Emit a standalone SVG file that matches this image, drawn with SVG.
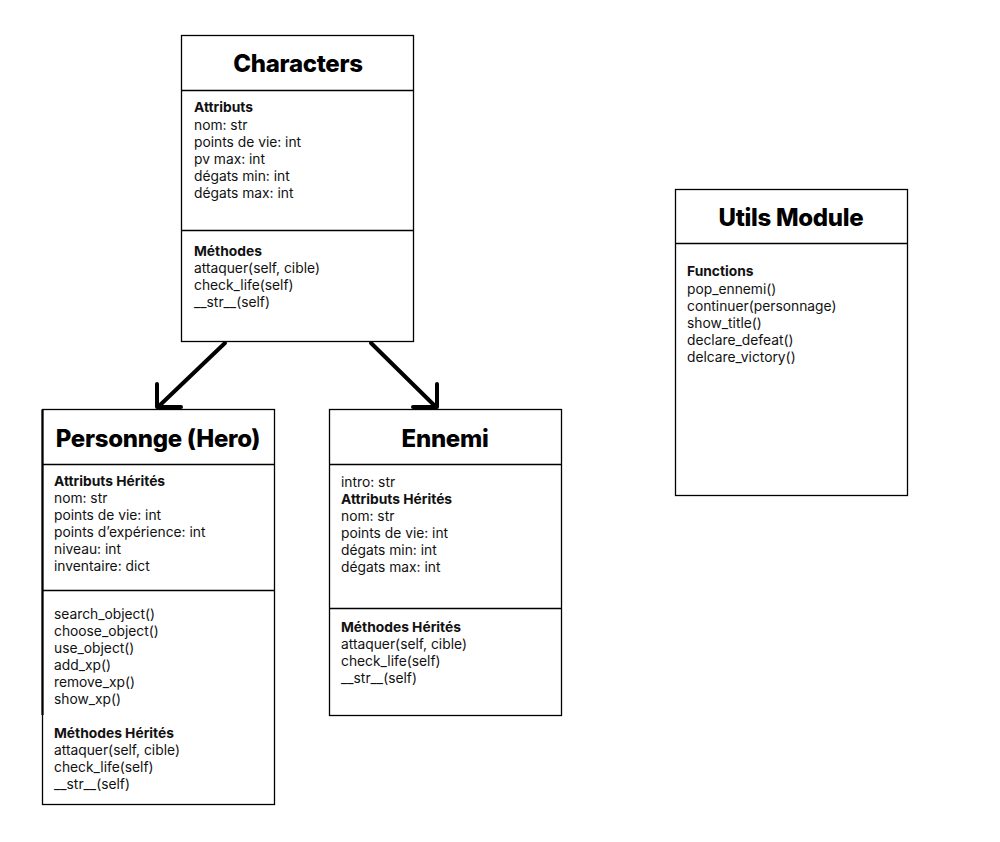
<svg xmlns="http://www.w3.org/2000/svg" width="1000" height="842" viewBox="0 0 1000 842">
<style>
.box{fill:#fff;stroke:#000;stroke-width:1.3}
.div{stroke:#000;stroke-width:1.3}
.title{font-family:Inter,"Liberation Sans",sans-serif;font-size:24px;font-weight:800;text-anchor:middle;fill:#000;letter-spacing:-0.3px}
.t{font-family:Inter,"Liberation Sans",sans-serif;font-size:13.8px;fill:#111}
.b{font-weight:700}
.conn{stroke:#000;stroke-width:4;fill:none;stroke-linecap:round;stroke-linejoin:round}
</style>
<rect width="1000" height="842" fill="#fff"/>
<g id="characters">
<rect class="box" x="181.5" y="35.5" width="232" height="306"/>
<line class="div" x1="181.5" y1="90.5" x2="413.5" y2="90.5"/>
<line class="div" x1="181.5" y1="230.5" x2="413.5" y2="230.5"/>
<text class="title" x="298" y="72">Characters</text>
<text class="t b" x="194" y="112">Attributs</text>
<text class="t" x="194" y="130">nom: str</text>
<text class="t" x="194" y="147">points de vie: int</text>
<text class="t" x="194" y="164">pv max: int</text>
<text class="t" x="194" y="181">dégats min: int</text>
<text class="t" x="194" y="198">dégats max: int</text>
<text class="t b" x="194" y="256">Méthodes</text>
<text class="t" x="194" y="273">attaquer(self, cible)</text>
<text class="t" x="194" y="290">check_life(self)</text>
<text class="t" x="194" y="307">__str__(self)</text>
</g>
<g id="personnage">
<rect class="box" x="42.5" y="409.5" width="232" height="395"/>
<line class="div" x1="42.5" y1="464.5" x2="274.5" y2="464.5"/>
<line class="div" x1="42.5" y1="590.5" x2="274.5" y2="590.5"/>
<line class="div" x1="42.5" y1="409.5" x2="42.5" y2="715" style="stroke-width:2.2"/>
<text class="title" x="158" y="447">Personnge (Hero)</text>
<text class="t b" x="54" y="486">Attributs Hérités</text>
<text class="t" x="54" y="503">nom: str</text>
<text class="t" x="54" y="520">points de vie: int</text>
<text class="t" x="54" y="537">points d’expérience: int</text>
<text class="t" x="54" y="554">niveau: int</text>
<text class="t" x="54" y="571">inventaire: dict</text>
<text class="t" x="54" y="619">search_object()</text>
<text class="t" x="54" y="636">choose_object()</text>
<text class="t" x="54" y="653">use_object()</text>
<text class="t" x="54" y="670">add_xp()</text>
<text class="t" x="54" y="687">remove_xp()</text>
<text class="t" x="54" y="704">show_xp()</text>
<text class="t b" x="54" y="738">Méthodes Hérités</text>
<text class="t" x="54" y="755">attaquer(self, cible)</text>
<text class="t" x="54" y="772">check_life(self)</text>
<text class="t" x="54" y="789">__str__(self)</text>
</g>
<g id="ennemi">
<rect class="box" x="329.5" y="409.5" width="232" height="306"/>
<line class="div" x1="329.5" y1="464.5" x2="561.5" y2="464.5"/>
<line class="div" x1="329.5" y1="608.5" x2="561.5" y2="608.5"/>
<text class="title" x="445" y="447">Ennemi</text>
<text class="t" x="341" y="487">intro: str</text>
<text class="t b" x="341" y="504">Attributs Hérités</text>
<text class="t" x="341" y="521">nom: str</text>
<text class="t" x="341" y="538">points de vie: int</text>
<text class="t" x="341" y="555">dégats min: int</text>
<text class="t" x="341" y="572">dégats max: int</text>
<text class="t b" x="341" y="632">Méthodes Hérités</text>
<text class="t" x="341" y="649">attaquer(self, cible)</text>
<text class="t" x="341" y="666">check_life(self)</text>
<text class="t" x="341" y="683">__str__(self)</text>
</g>
<g id="utils">
<rect class="box" x="675.5" y="189.5" width="232" height="306"/>
<line class="div" x1="675.5" y1="243.5" x2="907.5" y2="243.5"/>
<text class="title" x="791" y="226">Utils Module</text>
<text class="t b" x="687" y="276">Functions</text>
<text class="t" x="687" y="294">pop_ennemi()</text>
<text class="t" x="687" y="311">continuer(personnage)</text>
<text class="t" x="687" y="328">show_title()</text>
<text class="t" x="687" y="345">declare_defeat()</text>
<text class="t" x="687" y="362">delcare_victory()</text>
</g>
<g id="connectors">
<path class="conn" d="M225 343 L158 407"/>
<path class="conn" d="M157 384 L157 407 L181 407"/>
<path class="conn" d="M371 343 L436 407"/>
<path class="conn" d="M437 384 L437 407 L413 407"/>
</g>
</svg>
